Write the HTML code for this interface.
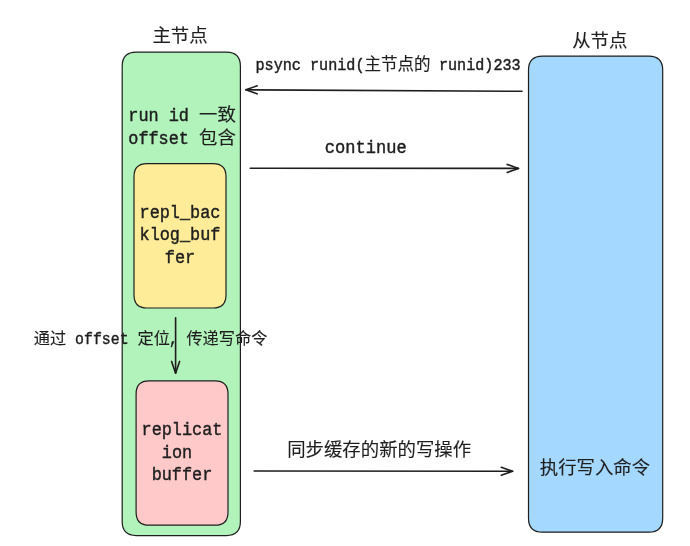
<!DOCTYPE html>
<html lang="zh-CN">
<head>
<meta charset="utf-8">
<title>psync runid offset</title>
<style>
html, body { margin: 0; padding: 0; background: #ffffff; }
body { width: 690px; height: 546px; overflow: hidden; font-family: "Liberation Mono", "Noto Sans CJK SC", monospace; }
svg { display: block; will-change: transform; }
text { fill: #1e1e1e; }
.m { font-family: "Liberation Mono", "Noto Sans CJK SC", monospace; }
.c { font-family: "Liberation Sans", "Noto Sans CJK SC", sans-serif; }
</style>
</head>
<body>
<svg width="690" height="546" viewBox="0 0 690 546">
<rect x="0" y="0" width="690" height="546" fill="#ffffff"/>
<path d="M136.20 52.20 Q181.30 52.20 226.40 52.20 Q240.40 52.20 240.40 66.20 Q240.40 293.90 240.40 521.60 Q240.40 535.60 226.40 535.60 Q181.30 535.60 136.20 535.60 Q122.20 535.60 122.20 521.60 Q122.20 293.90 122.20 66.20 Q122.20 52.20 136.20 52.20 Z" fill="#b2f2bb" stroke="#1e1e1e" stroke-width="1.2" stroke-linejoin="round"/>
<path d="M147.00 163.70 Q180.00 163.70 213.00 163.70 Q226.00 163.70 226.00 176.70 Q226.00 235.85 226.00 295.00 Q226.00 308.00 213.00 308.00 Q180.00 308.00 147.00 308.00 Q134.00 308.00 134.00 295.00 Q134.00 235.85 134.00 176.70 Q134.00 163.70 147.00 163.70 Z" fill="#ffec99" stroke="#1e1e1e" stroke-width="1.2" stroke-linejoin="round"/>
<path d="M149.10 380.90 Q182.05 380.90 215.00 380.90 Q228.00 380.90 228.00 393.90 Q228.00 453.05 228.00 512.20 Q228.00 525.20 215.00 525.20 Q182.05 525.20 149.10 525.20 Q136.10 525.20 136.10 512.20 Q136.10 453.05 136.10 393.90 Q136.10 380.90 149.10 380.90 Z" fill="#ffc9c9" stroke="#1e1e1e" stroke-width="1.2" stroke-linejoin="round"/>
<path d="M542.50 56.10 Q595.60 56.10 648.70 56.10 Q662.70 56.10 662.70 70.10 Q662.70 294.15 662.70 518.20 Q662.70 532.20 648.70 532.20 Q595.60 532.20 542.50 532.20 Q528.50 532.20 528.50 518.20 Q528.50 294.15 528.50 70.10 Q528.50 56.10 542.50 56.10 Z" fill="#a5d8ff" stroke="#1e1e1e" stroke-width="1.2" stroke-linejoin="round"/>
<path d="M522.00 91.30 L245.80 89.80" fill="none" stroke="#1e1e1e" stroke-width="1.6" stroke-linecap="round"/><path d="M257.12 85.86 L245.80 89.80 L257.08 93.86" fill="none" stroke="#1e1e1e" stroke-width="1.6" stroke-linecap="round" stroke-linejoin="round"/>
<path d="M250.20 168.20 L518.50 168.40" fill="none" stroke="#1e1e1e" stroke-width="1.6" stroke-linecap="round"/><path d="M507.20 172.39 L518.50 168.40 L507.20 164.39" fill="none" stroke="#1e1e1e" stroke-width="1.6" stroke-linecap="round" stroke-linejoin="round"/>
<path d="M254.20 471.00 L512.60 471.30" fill="none" stroke="#1e1e1e" stroke-width="1.6" stroke-linecap="round"/><path d="M501.30 475.29 L512.60 471.30 L501.30 467.29" fill="none" stroke="#1e1e1e" stroke-width="1.6" stroke-linecap="round" stroke-linejoin="round"/>
<path d="M175.60 317.80 L175.60 373.20" fill="none" stroke="#1e1e1e" stroke-width="1.6" stroke-linecap="round"/><path d="M171.60 361.40 L175.60 373.20 L179.60 361.40" fill="none" stroke="#1e1e1e" stroke-width="1.6" stroke-linecap="round" stroke-linejoin="round"/>
<text><tspan class="c" x="152.40" y="42.40" font-size="18.40" stroke="#1e1e1e" stroke-width="0.12">主节点</tspan></text>
<text><tspan class="c" x="572.20" y="47.20" font-size="18.40" stroke="#1e1e1e" stroke-width="0.12">从节点</tspan></text>
<text><tspan class="m" x="255.50" y="70.20" font-size="16.11" textLength="45.43" lengthAdjust="spacingAndGlyphs" stroke="#1e1e1e" stroke-width="0.42">psync</tspan> <tspan class="m" x="310.02" y="70.20" font-size="16.11" textLength="54.52" lengthAdjust="spacingAndGlyphs" stroke="#1e1e1e" stroke-width="0.42">runid(</tspan><tspan class="c" x="364.53" y="70.20" font-size="16.52" stroke="#1e1e1e" stroke-width="0.12">主节点的</tspan> <tspan class="m" x="438.90" y="70.20" font-size="16.11" textLength="81.77" lengthAdjust="spacingAndGlyphs" stroke="#1e1e1e" stroke-width="0.42">runid)233</tspan></text>
<text><tspan class="m" x="128.28" y="121.00" font-size="17.94" textLength="30.36" lengthAdjust="spacingAndGlyphs" stroke="#1e1e1e" stroke-width="0.42">run</tspan> <tspan class="m" x="168.76" y="121.00" font-size="17.94" textLength="20.24" lengthAdjust="spacingAndGlyphs" stroke="#1e1e1e" stroke-width="0.42">id</tspan> <tspan class="c" x="199.12" y="121.00" font-size="18.40" stroke="#1e1e1e" stroke-width="0.12">一致</tspan></text>
<text><tspan class="m" x="128.28" y="143.60" font-size="17.94" textLength="60.72" lengthAdjust="spacingAndGlyphs" stroke="#1e1e1e" stroke-width="0.42">offset</tspan> <tspan class="c" x="199.12" y="143.60" font-size="18.40" stroke="#1e1e1e" stroke-width="0.12">包含</tspan></text>
<text><tspan class="m" x="324.78" y="152.60" font-size="18.14" textLength="81.84" lengthAdjust="spacingAndGlyphs" stroke="#1e1e1e" stroke-width="0.42">continue</tspan></text>
<text><tspan class="m" x="139.52" y="217.70" font-size="17.94" textLength="80.96" lengthAdjust="spacingAndGlyphs" stroke="#1e1e1e" stroke-width="0.42">repl_bac</tspan></text>
<text><tspan class="m" x="139.52" y="240.30" font-size="17.94" textLength="80.96" lengthAdjust="spacingAndGlyphs" stroke="#1e1e1e" stroke-width="0.42">klog_buf</tspan></text>
<text><tspan class="m" x="164.82" y="263.00" font-size="17.94" textLength="30.36" lengthAdjust="spacingAndGlyphs" stroke="#1e1e1e" stroke-width="0.42">fer</tspan></text>
<text><tspan class="c" x="33.80" y="343.50" font-size="16.20" stroke="#1e1e1e" stroke-width="0.12">通过</tspan> <tspan class="m" x="75.11" y="343.50" font-size="15.79" textLength="53.46" lengthAdjust="spacingAndGlyphs" stroke="#1e1e1e" stroke-width="0.42">offset</tspan> <tspan class="c" x="137.48" y="343.50" font-size="16.20" stroke="#1e1e1e" stroke-width="0.12">定位</tspan><tspan class="m" x="168.88" y="343.50" font-size="15.79" textLength="8.91" lengthAdjust="spacingAndGlyphs" stroke="#1e1e1e" stroke-width="0.42">,</tspan> <tspan class="c" x="186.40" y="343.50" font-size="16.20" stroke="#1e1e1e" stroke-width="0.12">传递写命令</tspan></text>
<text><tspan class="m" x="141.52" y="434.60" font-size="17.94" textLength="80.96" lengthAdjust="spacingAndGlyphs" stroke="#1e1e1e" stroke-width="0.42">replicat</tspan></text>
<text><tspan class="m" x="161.82" y="457.80" font-size="17.94" textLength="30.36" lengthAdjust="spacingAndGlyphs" stroke="#1e1e1e" stroke-width="0.42">ion</tspan></text>
<text><tspan class="m" x="151.64" y="480.20" font-size="17.94" textLength="60.72" lengthAdjust="spacingAndGlyphs" stroke="#1e1e1e" stroke-width="0.42">buffer</tspan></text>
<text><tspan class="c" x="287.20" y="455.50" font-size="18.40" stroke="#1e1e1e" stroke-width="0.12">同步缓存的新的写操作</tspan></text>
<text><tspan class="c" x="539.80" y="473.90" font-size="18.40" stroke="#1e1e1e" stroke-width="0.12">执行写入命令</tspan></text>
</svg>
</body>
</html>
